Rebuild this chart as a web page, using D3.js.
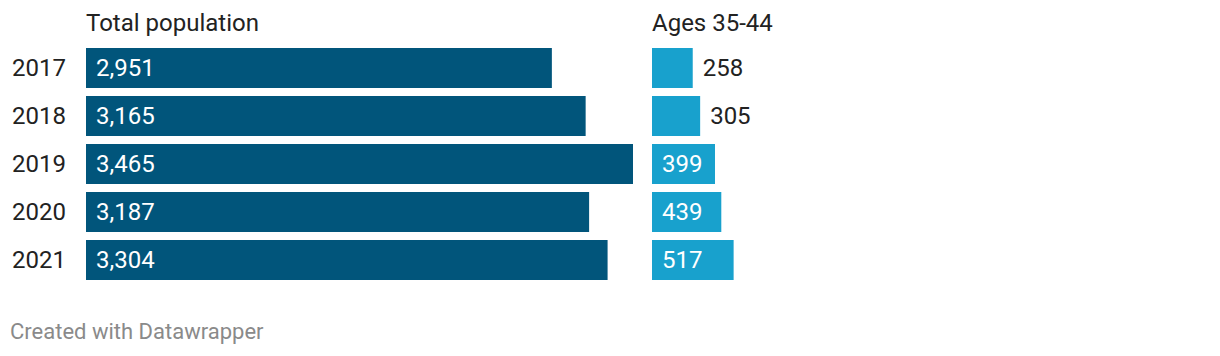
<!DOCTYPE html>
<html><head><meta charset="utf-8">
<script src="https://cdn.jsdelivr.net/npm/d3@7"></script>
<style>body{margin:0;background:#fff;font-family:Roboto,sans-serif;}</style>
</head><body><svg id="c" width="1220" height="356"></svg>
<script>
const years = ["2017","2018","2019","2020","2021"];
const totalPopulation = [2951,3165,3465,3187,3304];
const ages3544 = [258,305,399,439,517];
const headers = ["Total population","Ages 35-44"];
const footer = "Created with Datawrapper";

const svg = d3.select("#c");
const fmt = d3.format(",");
const yb = d3.scaleBand().domain(years).range([48, 48+48*5]).padding(0);
const barH = 40;
const x = d3.scaleLinear().domain([0, 3465]).range([0, 547]);

svg.selectAll("text.yr").data(years).enter().append("text")
  .attr("x", 12).attr("y", d => yb(d) + barH/2).attr("dy", "0.35em")
  .attr("font-size", 24).attr("fill", "#222").text(d => d);

function panel(x0, vals, color, title) {
  svg.append("text").attr("x", x0).attr("y", 31).attr("font-size", 24).attr("fill", "#222").text(title);
  const g = svg.append("g");
  g.selectAll("rect").data(vals).enter().append("rect")
    .attr("x", x0).attr("y", (d,i) => yb(years[i])).attr("height", barH)
    .attr("width", d => x(d)).attr("fill", color);
  g.selectAll("text").data(vals).enter().append("text")
    .attr("y", (d,i) => yb(years[i]) + barH/2).attr("dy", "0.35em")
    .attr("font-size", 24)
    .each(function(d){
      const w = x(d);
      const inside = w > 55;
      d3.select(this).attr("x", inside ? x0 + 10 : x0 + w + 10)
        .attr("fill", inside ? "#fff" : "#222").text(fmt(d));
    });
}
panel(86, totalPopulation, "#01557b", headers[0]);
panel(652, ages3544, "#18a1cd", headers[1]);

svg.append("text").attr("x", 10).attr("y", 339).attr("font-size", 22).attr("fill", "#8a8a8a").text(footer);
</script></body></html>
